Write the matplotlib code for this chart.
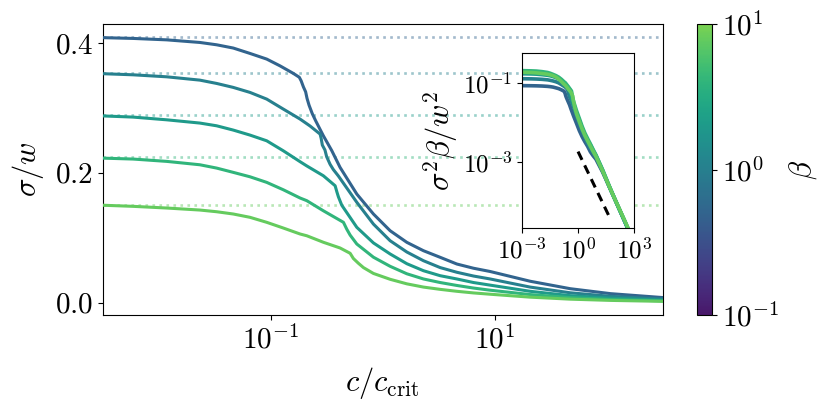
import numpy as np
import matplotlib
matplotlib.use("Agg")
import matplotlib.pyplot as plt
from matplotlib.colors import LogNorm, ListedColormap
from matplotlib.cm import ScalarMappable
from matplotlib.ticker import NullLocator

plt.rcParams.update({
    "mathtext.fontset": "cm",
    "font.family": "serif",
    "font.serif": ["cmr10"],
    "axes.formatter.use_mathtext": True,
    "axes.unicode_minus": False,
})

# beta for each curve, and the c -> 0 plateau of sigma/w (dotted lines)
betas = [0.5, 1.0, 2.0, 4.0, 8.0]
sigma_plateau = [0.409, 0.354, 0.289, 0.224, 0.151]

# sigma/w against c/c_crit
c_1 = [0.001, 0.00317, 0.00591, 0.0118, 0.0233, 0.0329, 0.0463, 0.0653,
       0.0921, 0.121, 0.159, 0.180, 0.187, 0.196, 0.205, 0.211, 0.220, 0.235,
       0.252, 0.295, 0.351, 0.416, 0.587, 0.826, 1.164, 1.641, 2.31, 3.26,
       4.59, 6.47, 9.10, 20.7, 47.3, 108, 320, 1000]
s_1 = [0.409, 0.408, 0.4068, 0.4046, 0.4006, 0.397, 0.392, 0.3837,
       0.375, 0.3646, 0.353, 0.347, 0.3415, 0.332, 0.3246, 0.3145, 0.304, 0.291,
       0.280, 0.257, 0.234, 0.2083, 0.1672, 0.1365, 0.1108, 0.0929, 0.080,
       0.0698, 0.0595, 0.053, 0.048, 0.033, 0.0215, 0.0139, 0.0078, 0.0043]

c_2 = [0.001, 0.00317, 0.00591, 0.0118, 0.0233, 0.0329, 0.0463, 0.0653,
       0.0921, 0.1296, 0.183, 0.2245, 0.276, 0.282, 0.289, 0.305, 0.316,
       0.339, 0.362, 0.402, 0.587, 0.826, 1.164, 1.641, 2.31, 3.26, 4.59,
       6.47, 9.10, 20.7, 47.3, 108, 320, 1000]
s_2 = [0.354, 0.3525, 0.3508, 0.3477, 0.3426, 0.3375, 0.3314, 0.3237,
       0.3134, 0.298, 0.2826, 0.272, 0.2595, 0.253, 0.2426, 0.235, 0.2246,
       0.213, 0.205, 0.195, 0.1545, 0.121, 0.0954, 0.078, 0.0646, 0.054,
       0.0468, 0.041, 0.0365, 0.024, 0.0152, 0.0098, 0.0055, 0.0030]

c_3 = [0.001, 0.00317, 0.00591, 0.0118, 0.0233, 0.0329, 0.0463, 0.0653,
       0.0921, 0.1296, 0.183, 0.210, 0.295, 0.376, 0.389, 0.402, 0.431, 0.587,
       0.826, 1.164, 1.641, 2.31, 3.26, 4.59, 6.47, 9.10, 20.7, 47.3, 108,
       320, 1000]
s_3 = [0.289, 0.2875, 0.2857, 0.2815, 0.2765, 0.2723, 0.2657, 0.258,
       0.2492, 0.2338, 0.217, 0.2105, 0.1954, 0.180, 0.171, 0.163, 0.150,
       0.116, 0.092, 0.075, 0.060, 0.0492, 0.0415, 0.0365, 0.031, 0.027,
       0.0175, 0.0108, 0.0070, 0.0039, 0.0021]

c_4 = [0.001, 0.00317, 0.00591, 0.0118, 0.0233, 0.0329, 0.0463, 0.0653,
       0.0921, 0.1296, 0.183, 0.210, 0.295, 0.446, 0.478, 0.512, 0.587, 0.826,
       1.164, 1.641, 2.31, 3.26, 4.59, 6.47, 9.10, 20.7, 47.3, 108, 320, 1000]
s_4 = [0.224, 0.2225, 0.2211, 0.2175, 0.2123, 0.2072, 0.2006, 0.1938,
       0.1852, 0.1738, 0.1611, 0.157, 0.1415, 0.1237, 0.113, 0.104, 0.0903,
       0.070, 0.056, 0.0445, 0.0365, 0.031, 0.0265, 0.0225, 0.0192, 0.0125,
       0.0078, 0.0049, 0.0028, 0.0015]

c_5 = [0.001, 0.00317, 0.00591, 0.0118, 0.0233, 0.0329, 0.0463, 0.0653,
       0.0921, 0.1296, 0.183, 0.210, 0.295, 0.416, 0.512, 0.547, 0.607, 0.673,
       0.826, 1.164, 1.641, 2.31, 3.26, 4.59, 6.47, 9.10, 20.7, 47.3, 108,
       320, 1000]
s_5 = [0.151, 0.150, 0.1483, 0.1457, 0.1426, 0.140, 0.1365, 0.1314,
       0.1237, 0.1149, 0.1057, 0.103, 0.093, 0.0842, 0.076, 0.068, 0.0606,
       0.054, 0.045, 0.036, 0.029, 0.024, 0.0205, 0.0175, 0.015, 0.013,
       0.0085, 0.0054, 0.0035, 0.0020, 0.0011]

curves_c = [c_1, c_2, c_3, c_4, c_5]
curves_s = [s_1, s_2, s_3, s_4, s_5]

# dashed guide in the inset
guide_x = [1.0, 42.5]
guide_y = [1.8e-3, 4.5e-5]

cmap = ListedColormap(plt.cm.viridis(np.linspace(0.06, 0.80, 256)))
norm = LogNorm(vmin=0.1, vmax=10)

fig = plt.figure(figsize=(8.31, 4.09), dpi=100)
ax = fig.add_axes([0.1236, 0.2298, 0.6739, 0.7115])
ax_in = fig.add_axes([0.6282, 0.4425, 0.1348, 0.4279])
cax = fig.add_axes([0.8387, 0.2298, 0.0181, 0.7115])

for beta, plateau, c, s in zip(betas, sigma_plateau, curves_c, curves_s):
    color = cmap(norm(beta))
    ax.axhline(plateau, color=color, alpha=0.45, linestyle=":",
               linewidth=1.9, zorder=1)
    ax.plot(c, s, color=color, linewidth=2.2, zorder=3)

    # inset shows sigma^2 * beta / w^2
    s_arr = np.array(s)
    ax_in.plot(c, s_arr ** 2 * beta, color=color, linewidth=2.6)

ax_in.plot(guide_x, guide_y, color="black", linestyle="--",
           linewidth=2.2, dashes=(3, 2))

ax.set_xscale("log")
ax.set_xlim(10 ** -2.5, 10 ** 2.5)
ax.set_ylim(-0.019, 0.429)
ax.set_xticks([1e-1, 1e1])
ax.xaxis.set_minor_locator(NullLocator())
ax.set_yticks([0.0, 0.2, 0.4])
ax.tick_params(labelsize=21)
ax.set_xlabel(r"$c/c_{\rm crit}$", fontsize=22, labelpad=8)
ax.set_ylabel(r"$\sigma/w$", fontsize=22, labelpad=6)

ax_in.set_xscale("log")
ax_in.set_yscale("log")
ax_in.set_xlim(1e-3, 1e3)
ax_in.set_ylim(2.1e-5, 0.56)
ax_in.set_xticks([1e-3, 1e0, 1e3])
ax_in.set_yticks([1e-3, 1e-1])
ax_in.xaxis.set_minor_locator(NullLocator())
ax_in.yaxis.set_minor_locator(NullLocator())
ax_in.tick_params(labelsize=18)
ax_in.set_ylabel(r"$\sigma^2\beta/w^2$", fontsize=22, labelpad=2)

sm = ScalarMappable(norm=norm, cmap=cmap)
cbar = fig.colorbar(sm, cax=cax)
cbar.set_ticks([1e-1, 1e0, 1e1])
cax.yaxis.set_minor_locator(NullLocator())
cax.tick_params(labelsize=21)
cbar.set_label(r"$\beta$", fontsize=22, labelpad=6)

fig.savefig("out.png", dpi=100)
